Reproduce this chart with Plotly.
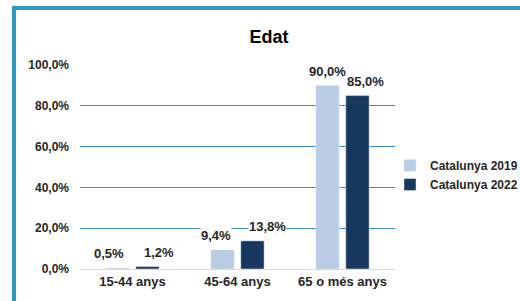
import plotly.graph_objects as go

categories = ["15-44 anys", "45-64 anys", "65 o més anys"]
series_names = ["Catalunya 2019", "Catalunya 2022"]
values_2019 = [0.5, 9.4, 90.0]
values_2022 = [1.2, 13.8, 85.0]
tick_vals = [0, 20, 40, 60, 80, 100]
tick_text = ["0,0%", "20,0%", "40,0%", "60,0%", "80,0%", "100,0%"]

# label horizontal nudges (pixels) per series, like Excel's repositioned labels
label_dx = [[-24, -22, -15], [26, 30, 23]]

def fmt(v):
    return f"{v:.1f}".replace(".", ",") + "%"

colors = ["#B9CDE5", "#17375E"]
font = "Liberation Sans, Arial, sans-serif"
txt = "#262626"

fig = go.Figure()
for name, vals, c in zip(series_names, [values_2019, values_2022], colors):
    fig.add_trace(go.Bar(x=categories, y=vals, name=name, marker_color=c))

# dark-series labels first so the light-series labels sit on top
for vals, dxs in reversed(list(zip([values_2019, values_2022], label_dx))):
    for cat, v, dx in zip(categories, vals, dxs):
        fig.add_annotation(x=cat, y=v, text=fmt(v), showarrow=False,
                           xshift=dx, yshift=14, yanchor="middle",
                           bgcolor="white", borderpad=0,
                           font=dict(family=font, size=13, color=txt, weight="bold"))

L, R, T, B = 80, 125, 65, 32
W, H = 520, 301
pw, ph = W - L - R, H - T - B

def px(x):
    return (x - L) / pw

def py(y):
    return (H - B - y) / ph

border = "#2F9BC1"
fig.add_shape(type="line", xref="paper", yref="paper", x0=px(12), x1=px(530), y0=py(8), y1=py(8),
              line=dict(color=border, width=4))
fig.add_shape(type="line", xref="paper", yref="paper", x0=px(14), x1=px(14), y0=py(6), y1=py(310),
              line=dict(color=border, width=4))

fig.update_layout(
    width=W, height=H,
    margin=dict(l=L, r=R, t=T, b=B, autoexpand=False),
    paper_bgcolor="white", plot_bgcolor="white",
    barmode="group", bargap=0.43, bargroupgap=0.22,
    title=dict(text="<b>Edat</b>", x=269 / W, xanchor="center", y=1 - 37 / H, yanchor="middle",
               font=dict(family=font, size=18, color="black")),
    font=dict(family=font, size=12, color=txt),
    showlegend=True,
    legend=dict(x=px(390), xanchor="left", y=py(175), yanchor="middle",
                font=dict(family=font, size=12, color=txt, weight="bold"), itemwidth=30,
                tracegroupgap=4, bgcolor="rgba(0,0,0,0)"),
    xaxis=dict(showline=True, linecolor="#D9D9D9", linewidth=1, ticks="",
               tickfont=dict(family=font, size=13, color=txt, weight="bold")),
    yaxis=dict(range=[0, 100], tickvals=tick_vals, ticktext=tick_text,
               showgrid=True, gridcolor="#3A8DC2", gridwidth=1, zeroline=False,
               tickfont=dict(family=font, size=12, color=txt, weight="bold"), ticks="",
               ticklabelstandoff=10),
)

fig.write_html("out.html", config={"displayModeBar": False},
               post_script="document.body.style.margin='0';")
